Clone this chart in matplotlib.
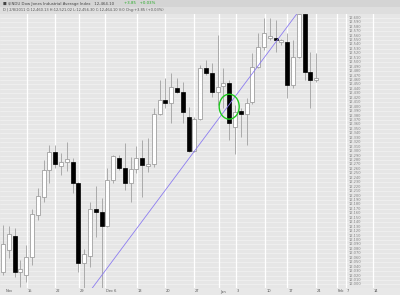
import matplotlib
matplotlib.use("Agg")
import matplotlib.pyplot as plt
from matplotlib.patches import Ellipse, Rectangle
import numpy as np

# ---- data (daily candles) ----
opens  = [12028, 12078, 12109, 12028, 12021, 12062, 12156, 12197, 12258, 12298,
          12267, 12276, 12276, 12228, 12048, 12064, 12170, 12163, 12132, 12235,
          12285, 12262, 12228, 12260, 12285, 12267, 12271, 12384, 12415, 12408,
          12442, 12433, 12377, 12300, 12372, 12487, 12476, 12433, 12447, 12453,
          12354, 12390, 12384, 12410, 12489, 12534, 12555, 12555, 12546, 12546,
          12449, 12512, 12609, 12478, 12460]
highs  = [12134, 12132, 12127, 12055, 12089, 12170, 12217, 12280, 12314, 12314,
          12296, 12321, 12285, 12231, 12080, 12186, 12222, 12195, 12262, 12291,
          12291, 12318, 12287, 12312, 12325, 12330, 12397, 12460, 12465, 12476,
          12465, 12456, 12399, 12377, 12494, 12505, 12498, 12561, 12487, 12460,
          12404, 12397, 12420, 12521, 12566, 12600, 12600, 12595, 12552, 12566,
          12550, 12613, 12613, 12523, 12521]
lows   = [12021, 12060, 12017, 11994, 12006, 12044, 12145, 12186, 12228, 12262,
          12246, 12255, 12206, 12028, 11992, 12039, 12107, 11992, 12129, 12228,
          12258, 12213, 12186, 12251, 12197, 12253, 12264, 12381, 12397, 12363,
          12431, 12363, 12298, 12298, 12370, 12471, 12422, 12404, 12397, 12325,
          12294, 12332, 12314, 12406, 12487, 12528, 12550, 12523, 12539, 12420,
          12442, 12510, 12460, 12397, 12456]
closes = [12091, 12114, 12028, 12035, 12062, 12159, 12199, 12258, 12298, 12271,
          12276, 12282, 12228, 12048, 12069, 12170, 12163, 12132, 12235, 12289,
          12262, 12228, 12260, 12285, 12269, 12271, 12384, 12415, 12408, 12444,
          12433, 12388, 12300, 12372, 12487, 12476, 12433, 12444, 12453, 12363,
          12388, 12384, 12408, 12489, 12534, 12566, 12559, 12550, 12550, 12449,
          12512, 12609, 12478, 12460, 12464]

xtick_pos    = [0.3, 4.1, 8.9, 13.1, 17.6, 23.1, 27.9, 32.9, 37.2, 40.2, 45.2, 49.0, 54.0, 57.6, 59.1, 63.8]
xtick_labels = ["Nov", "15", "22", "29", "Dec 6", "13", "20", "27", "Jan", "3", "10", "17", "24", "Feb", "7", "14"]
price_ticks  = list(range(11990, 12620, 10))

trend_x = [15.4, 50.9]
trend_y = [11992, 12613]

circle_x, circle_y = 39, 12400

# ---- figure ----
W, H = 400, 295
fig = plt.figure(figsize=(4, 2.95), dpi=100)
fig.patch.set_facecolor('#e4e4e4')

ax = fig.add_axes([0, 7 / H, 1, (288 - 14) / H])
ax.set_facecolor('#e6e6e6')
ax.set_xlim(-0.517, 68.45)
ax.set_ylim(11992, 12608.5)
for s in ax.spines.values():
    s.set_visible(False)
ax.set_xticks([])
ax.set_yticks([])

for t in price_ticks:
    ax.axhline(t, color='#f6f6f6', lw=0.4, zorder=0)
for p in xtick_pos[1:]:
    ax.axvline(p, color='white', lw=0.9, zorder=0)

# right-side price labels (inside)
for t in price_ticks:
    if 11995 < t < 12608:
        ax.text(0.872, t, f"{t:,}", transform=ax.get_yaxis_transform(),
                fontsize=2.6, color='#808080', va='center', ha='left', zorder=3)

# candles
x = np.arange(len(opens))
o = np.array(opens); c = np.array(closes); h = np.array(highs); l = np.array(lows)
up = c >= o
ax.vlines(x, l, h, color='#a0a0a0', lw=0.6, zorder=2)
bw = 0.68
bot = np.minimum(o, c)
ht = np.maximum(np.abs(c - o), 2.5)
ax.bar(x[up], ht[up], bottom=bot[up], width=bw, facecolor='white',
       edgecolor='#a0a0a0', lw=0.6, zorder=3)
ax.bar(x[~up], ht[~up], bottom=bot[~up], width=bw, facecolor='black',
       edgecolor='black', lw=0.5, zorder=3)

# trend line
ax.plot(trend_x, trend_y, color='#8c7cf0', lw=0.6, zorder=4)

# green ellipse
ax.add_patch(Ellipse((circle_x, circle_y), width=3.45, height=56, fill=False,
                     edgecolor='#1ec81e', lw=1.0, zorder=5))

# header band
fig.patches.append(Rectangle((0, 1 - 14 / H), 1, 14 / H, transform=fig.transFigure,
                             facecolor='#dedede', edgecolor='none', zorder=0))
fig.patches.append(Rectangle((0, 1 - 7 / H), 1, 7 / H, transform=fig.transFigure,
                             facecolor='#d4d4d4', edgecolor='none', zorder=0))
fig.text(3 / W, 1 - 3.5 / H, "\u25a0 $INDU Dow Jones Industrial Average Index   12,464.10",
         fontsize=2.8, color='#444444', va='center', ha='left')
fig.text(124 / W, 1 - 3.5 / H, "+3.85   +0.03%", fontsize=2.8, color='#22aa22',
         va='center', ha='left')
fig.text(3 / W, 1 - 10.5 / H,
         "D | 2/8/2011 O:12,460.13 H:12,521.02 L:12,456.30 C:12,464.10 V:0 Chg:+3.85 (+0.03%)",
         fontsize=2.6, color='#555555', va='center', ha='left')

# bottom band + date labels
fig.patches.append(Rectangle((0, 0), 1, 7 / H, transform=fig.transFigure,
                             facecolor='#e8e8e8', edgecolor='none', zorder=0))
for p, lab in zip(xtick_pos, xtick_labels):
    xp = ax.transData.transform((p, 0))[0] / W
    fig.text(xp + 1 / W, 3.5 / H, lab, fontsize=2.6, color='#555555', va='center', ha='left')

fig.savefig("out.png", dpi=100, facecolor=fig.get_facecolor())
